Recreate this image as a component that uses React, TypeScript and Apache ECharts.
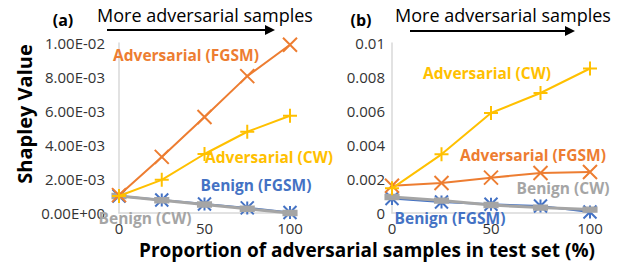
import React, { useEffect, useRef } from "react";
import * as echarts from "echarts";

const xValues = [0, 25, 50, 75, 100];
const aAdvFGSM = [0.00105, 0.0033, 0.00565, 0.00805, 0.0099];
const aAdvCW = [0.001, 0.00195, 0.00347, 0.00478, 0.00572];
const aBenFGSM = [0.001, 0.00076, 0.00053, 0.0003, 0.00003];
const aBenCW = [0.001, 0.00075, 0.0005, 0.00025, 0.0];
const bAdvCW = [0.00145, 0.00345, 0.00588, 0.00706, 0.0085];
const bAdvFGSM = [0.0016, 0.00176, 0.00208, 0.00235, 0.00241];
const bBenFGSM = [0.00085, 0.00065, 0.00051, 0.00041, 0.00006];
const bBenCW = [0.00094, 0.00073, 0.00047, 0.00032, 0.0002];

const seriesNames = ["Adversarial (FGSM)", "Adversarial (CW)", "Benign (FGSM)", "Benign (CW)"];
const panelTags = ["(a)", "(b)"];
const topNote = "More adversarial samples";
const yTitle = "Shapley Value";
const xTitle = "Proportion of adversarial samples in test set (%)";

const ORANGE = "#ED7D31";
const YELLOW = "#FFC000";
const BLUE = "#4472C4";
const GRAY = "#A5A5A5";
const FONT = "'Open Sans'";

const SYM_X = "path://M0,0L10,10M10,0L0,10";
const SYM_PLUS = "path://M5,0L5,10M0,5L10,5";
const SYM_AST = "path://M5,0L5,10M0,0L10,10M10,0L0,10";

const pairs = (ys: number[]) => xValues.map((x, i) => [x, ys[i]]);

function sciFmt(v: number) {
  if (v === 0) return "0.00E+00";
  const exp = Math.floor(Math.log10(Math.abs(v)) + 1e-9);
  const mant = v / Math.pow(10, exp);
  const sign = exp < 0 ? "-" : "+";
  const e = Math.abs(exp).toString().padStart(2, "0");
  return mant.toFixed(2) + "E" + sign + e;
}

function mkSeries(name: string, data: number[], idx: number, color: string, symbol: string, size: any, lw: number, z: number) {
  return {
    name,
    type: "line",
    xAxisIndex: idx,
    yAxisIndex: idx,
    data: pairs(data),
    symbol,
    symbolSize: size,
    showSymbol: true,
    lineStyle: { color, width: lw },
    itemStyle: { color, borderColor: color, borderWidth: 2 },
    z,
  };
}

export default function App() {
  const ref = useRef<HTMLDivElement>(null);
  useEffect(() => {
    document.body.style.margin = "0";
    const chart = echarts.init(ref.current!, undefined, { renderer: "svg" });
    const axisLabel = { fontFamily: "Open Sans", fontSize: 15, color: "#333" };
    const xAxisCommon = {
      type: "value",
      min: 0,
      max: 100,
      interval: 50,
      axisLine: { show: true, lineStyle: { color: "#D9D9D9", width: 1.5 } },
      axisTick: { show: false },
      splitLine: { show: false },
      axisLabel: { ...axisLabel, margin: 7 },
    };
    const yAxisCommon = {
      type: "value",
      min: 0,
      max: 0.01,
      interval: 0.002,
      axisLine: { show: true, lineStyle: { color: "#D9D9D9", width: 1.5 } },
      axisTick: { show: false },
      splitLine: { show: false },
    };
    const lbl = (text: string, x: number, y: number, color: string) => ({
      type: "text",
      x,
      y,
      style: { text, fill: color, font: `bold 15.5px ${FONT}`, textAlign: "center", textVerticalAlign: "middle" },
      z: 100,
    });
    const note = (x: number, y: number) => ({
      type: "text",
      x,
      y,
      style: { text: topNote, fill: "#000", font: `18px ${FONT}`, textAlign: "center", textVerticalAlign: "middle" },
    });
    const arrow = (x1: number, x2: number, y: number) => [
      { type: "line", shape: { x1, y1: y, x2: x2 - 4, y2: y }, style: { stroke: "#000", lineWidth: 2 } },
      { type: "polygon", shape: { points: [[x2 - 10, y - 5], [x2, y], [x2 - 10, y + 5]] }, style: { fill: "#000" } },
    ];
    chart.setOption({
      animation: false,
      grid: [
        { left: 119, top: 43, width: 171, height: 170, containLabel: false },
        { left: 392, top: 43, width: 198, height: 170, containLabel: false },
      ],
      xAxis: [
        { ...xAxisCommon, gridIndex: 0 },
        { ...xAxisCommon, gridIndex: 1 },
      ],
      yAxis: [
        { ...yAxisCommon, gridIndex: 0, axisLabel: { ...axisLabel, margin: 14, formatter: (v: number) => sciFmt(v) } },
        {
          ...yAxisCommon,
          gridIndex: 1,
          axisLabel: { ...axisLabel, margin: 7, formatter: (v: number) => String(Number(v.toFixed(4))) },
        },
      ],
      series: [
        mkSeries(seriesNames[2], aBenFGSM, 0, BLUE, SYM_AST, 13, 2, 2),
        mkSeries(seriesNames[3], aBenCW, 0, GRAY, "rect", [12, 5], 3, 3),
        mkSeries(seriesNames[0], aAdvFGSM, 0, ORANGE, SYM_X, 14, 2, 4),
        mkSeries(seriesNames[1], aAdvCW, 0, YELLOW, SYM_PLUS, 14, 2, 5),
        mkSeries(seriesNames[2], bBenFGSM, 1, BLUE, SYM_AST, 13, 2, 2),
        mkSeries(seriesNames[3], bBenCW, 1, GRAY, "rect", [12, 5], 3, 3),
        mkSeries(seriesNames[0], bAdvFGSM, 1, ORANGE, SYM_X, 14, 2, 4),
        mkSeries(seriesNames[1], bAdvCW, 1, YELLOW, SYM_PLUS, 14, 2, 5),
      ],
      graphic: [
        {
          type: "text",
          x: 24,
          y: 114,
          rotation: Math.PI / 2,
          style: { text: yTitle, fill: "#000", font: `bold 20px ${FONT}`, textAlign: "center", textVerticalAlign: "middle" },
        },
        {
          type: "text",
          x: 367,
          y: 250,
          style: { text: xTitle, fill: "#000", font: `bold 19px ${FONT}`, textAlign: "center", textVerticalAlign: "middle" },
        },
        {
          type: "text",
          x: 63,
          y: 20,
          style: { text: panelTags[0], fill: "#000", font: `bold 16px ${FONT}`, textAlign: "center", textVerticalAlign: "middle" },
        },
        {
          type: "text",
          x: 361,
          y: 20,
          style: { text: panelTags[1], fill: "#000", font: `bold 16px ${FONT}`, textAlign: "center", textVerticalAlign: "middle" },
        },
        note(205, 15),
        note(503, 15),
        ...arrow(107, 275, 30),
        ...arrow(410, 575, 31),
        lbl(seriesNames[0], 186, 55, ORANGE),
        lbl(seriesNames[1], 269, 157, YELLOW),
        lbl(seriesNames[2], 256, 185, BLUE),
        lbl(seriesNames[3], 145, 218, GRAY),
        lbl(seriesNames[1], 487, 73, YELLOW),
        lbl(seriesNames[0], 533, 155, ORANGE),
        lbl(seriesNames[3], 563, 188, GRAY),
        lbl(seriesNames[2], 450, 218, BLUE),
      ],
    });
    return () => chart.dispose();
  }, []);
  return <div ref={ref} style={{ width: 623, height: 262 }} />;
}
